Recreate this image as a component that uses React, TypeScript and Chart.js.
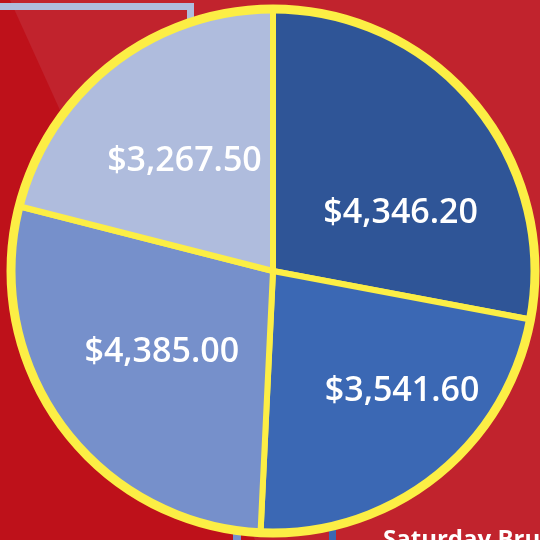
import React, { useEffect, useRef } from "react";
import { Chart, registerables } from "chart.js";

Chart.register(...registerables);

// ---- data ----
const categories = ["Slice A", "Slice B", "Slice C", "Slice D"];
const salesValues = [4346.2, 3541.6, 4385.0, 3267.5];
const sliceColors = ["#2F5597", "#3B68B4", "#7690CB", "#AFBCDD"];
const footerText = "Saturday Brunch";

// ---- style ----
const YELLOW = "#FCEE45";
// label placement: fraction across slice angle, fraction of radius
const labelAngleFrac = [0.64, 0.384, 0.512, 0.495];
const labelRadiusFrac = [0.54, 0.665, 0.52, 0.546];
const LABEL_Y_SHIFT = 3;

const fmt = (v: number) =>
  "$" + v.toLocaleString("en-US", { minimumFractionDigits: 2, maximumFractionDigits: 2 });

const sliceLabelPlugin = {
  id: "sliceLabels",
  afterDatasetsDraw(chart: any) {
    const ctx = chart.ctx;
    const meta = chart.getDatasetMeta(0);
    if (!meta.data.length) return;
    const first: any = meta.data[0];
    ctx.save();
    ctx.beginPath();
    ctx.arc(first.x, first.y, first.outerRadius, 0, Math.PI * 2);
    ctx.strokeStyle = YELLOW;
    ctx.lineWidth = 9;
    ctx.stroke();

    ctx.fillStyle = "#FFFFFF";
    ctx.font = "600 34px 'Open Sans'";
    ctx.textAlign = "center";
    ctx.textBaseline = "middle";
    meta.data.forEach((el: any, i: number) => {
      const p = el.getProps(["x", "y", "startAngle", "endAngle", "outerRadius"], true);
      const a = p.startAngle + labelAngleFrac[i] * (p.endAngle - p.startAngle);
      const r = labelRadiusFrac[i] * p.outerRadius;
      const v = chart.data.datasets[0].data[i] as number;
      ctx.fillText(fmt(v), p.x + r * Math.cos(a), p.y + r * Math.sin(a) + LABEL_Y_SHIFT);
    });
    ctx.restore();
  },
};

export default function App() {
  const canvasRef = useRef<HTMLCanvasElement | null>(null);

  useEffect(() => {
    if (!canvasRef.current) return;
    const chart = new Chart(canvasRef.current, {
      type: "pie",
      data: {
        labels: categories,
        datasets: [
          {
            data: salesValues,
            backgroundColor: sliceColors,
            borderColor: YELLOW,
            borderWidth: 6,
          },
        ],
      },
      options: {
        animation: false,
        responsive: true,
        maintainAspectRatio: false,
        radius: 262,
        layout: { padding: 0 },
        plugins: {
          legend: { display: false },
          tooltip: { enabled: false },
        },
      } as any,
      plugins: [sliceLabelPlugin],
    });
    return () => chart.destroy();
  }, []);

  return (
    <div
      style={{
        position: "fixed",
        left: 0,
        top: 0,
        width: 540,
        height: 540,
        overflow: "hidden",
        background: "#C1232D",
      }}
    >
      <div
        style={{
          position: "absolute",
          inset: 0,
          background: "#BE111A",
          clipPath: "polygon(0 0, 10px 0, 255px 540px, 0 540px)",
        }}
      />
      {/* decorative connector lines */}
      <div style={{ position: "absolute", left: 0, top: 3, width: 194, height: 7, background: "#AFBCDD" }} />
      <div style={{ position: "absolute", left: 187, top: 3, width: 7, height: 40, background: "#AFBCDD" }} />
      <div style={{ position: "absolute", left: 233, top: 500, width: 8, height: 40, background: "#7690CB" }} />
      <div style={{ position: "absolute", left: 329, top: 490, width: 7, height: 50, background: "#3B68B4" }} />
      <div style={{ position: "absolute", left: 3, top: 1, width: 540, height: 540 }}>
        <canvas ref={canvasRef} />
      </div>
      <div
        style={{
          position: "absolute",
          left: 383,
          top: 526,
          fontFamily: "'Open Sans', sans-serif",
          fontWeight: 700,
          fontSize: 24,
          lineHeight: "24px",
          color: "#FFFFFF",
          whiteSpace: "nowrap",
        }}
      >
        {footerText}
      </div>
    </div>
  );
}
